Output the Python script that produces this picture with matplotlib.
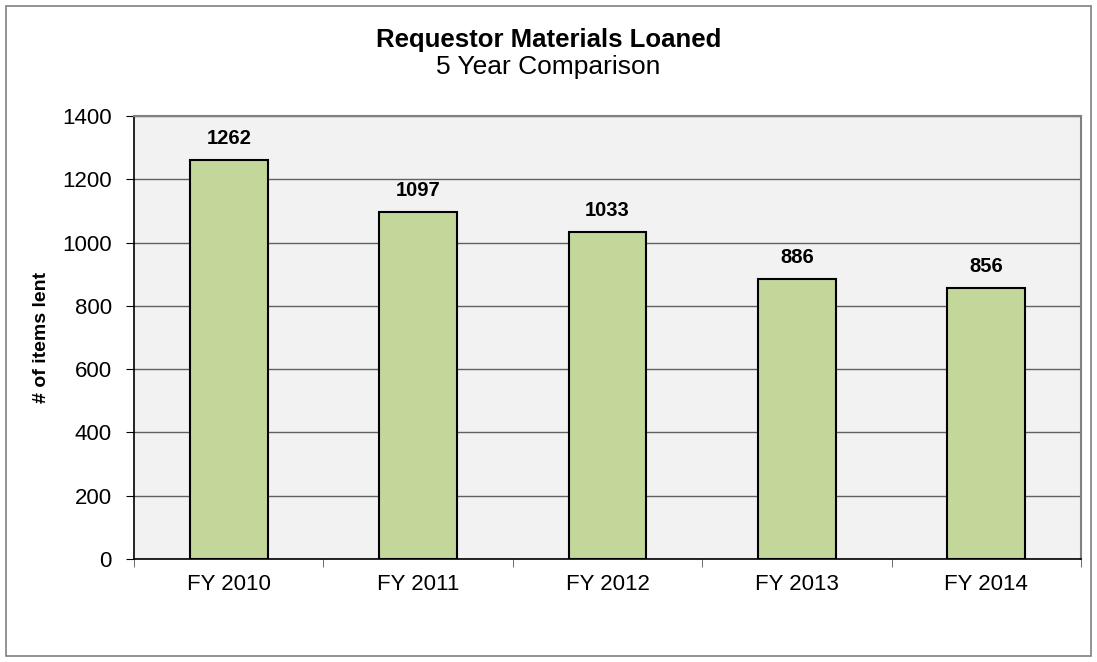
import numpy as np
import matplotlib.pyplot as plt
from matplotlib.patches import Rectangle

plt.rcParams['font.family'] = ['Liberation Sans', 'DejaVu Sans']

years = ['FY 2010', 'FY 2011', 'FY 2012', 'FY 2013', 'FY 2014']
items_lent = [1262, 1097, 1033, 886, 856]

fig = plt.figure(figsize=(10.97, 6.62), dpi=100)
ax = fig.add_axes([0.1222, 0.1556, 0.8632, 0.6692])

# outer chart frame
fig.patches.append(Rectangle((0.0055, 0.009), 0.989, 0.982, transform=fig.transFigure,
                             fill=False, edgecolor='#808080', lw=1.2))

x = np.arange(len(years))
ax.set_facecolor('#F2F2F2')
ax.bar(x, items_lent, width=0.41, color='#C4D79B', edgecolor='black', lw=1.5, zorder=3)

for xi, v in zip(x, items_lent):
    ax.text(xi, v + 50, str(v), ha='center', va='baseline', fontsize=14.5,
            fontweight='bold', zorder=4)

ax.set_xlim(-0.5, len(years) - 0.5)
ax.set_ylim(0, 1400)
ax.set_yticks(np.arange(0, 1401, 200))
ax.yaxis.grid(True, color='#606060', lw=1, zorder=1)
ax.set_xticks(x)
ax.set_xticklabels(years, fontsize=16)
ax.set_xticks(np.arange(-0.5, len(years)), minor=True)
ax.tick_params(axis='x', which='major', length=0, pad=11)
ax.tick_params(axis='x', which='minor', length=6, direction='out', color='#555555')
ax.tick_params(axis='y', length=6, direction='out', labelsize=16, pad=10)

for side in ['top', 'right']:
    ax.spines[side].set_color('#808080')
    ax.spines[side].set_linewidth(1.5)
for side in ['left', 'bottom']:
    ax.spines[side].set_color('black')
    ax.spines[side].set_linewidth(1.2)

ax.set_ylabel('# of items lent', fontsize=14, fontweight='bold', labelpad=9)

fig.text(0.5, 0.929, 'Requestor Materials Loaned', ha='center', va='baseline',
         fontsize=18.5, fontweight='bold')
fig.text(0.5, 0.888, '5 Year Comparison', ha='center', va='baseline', fontsize=19)

plt.savefig('out.png', dpi=100)
plt.close()
